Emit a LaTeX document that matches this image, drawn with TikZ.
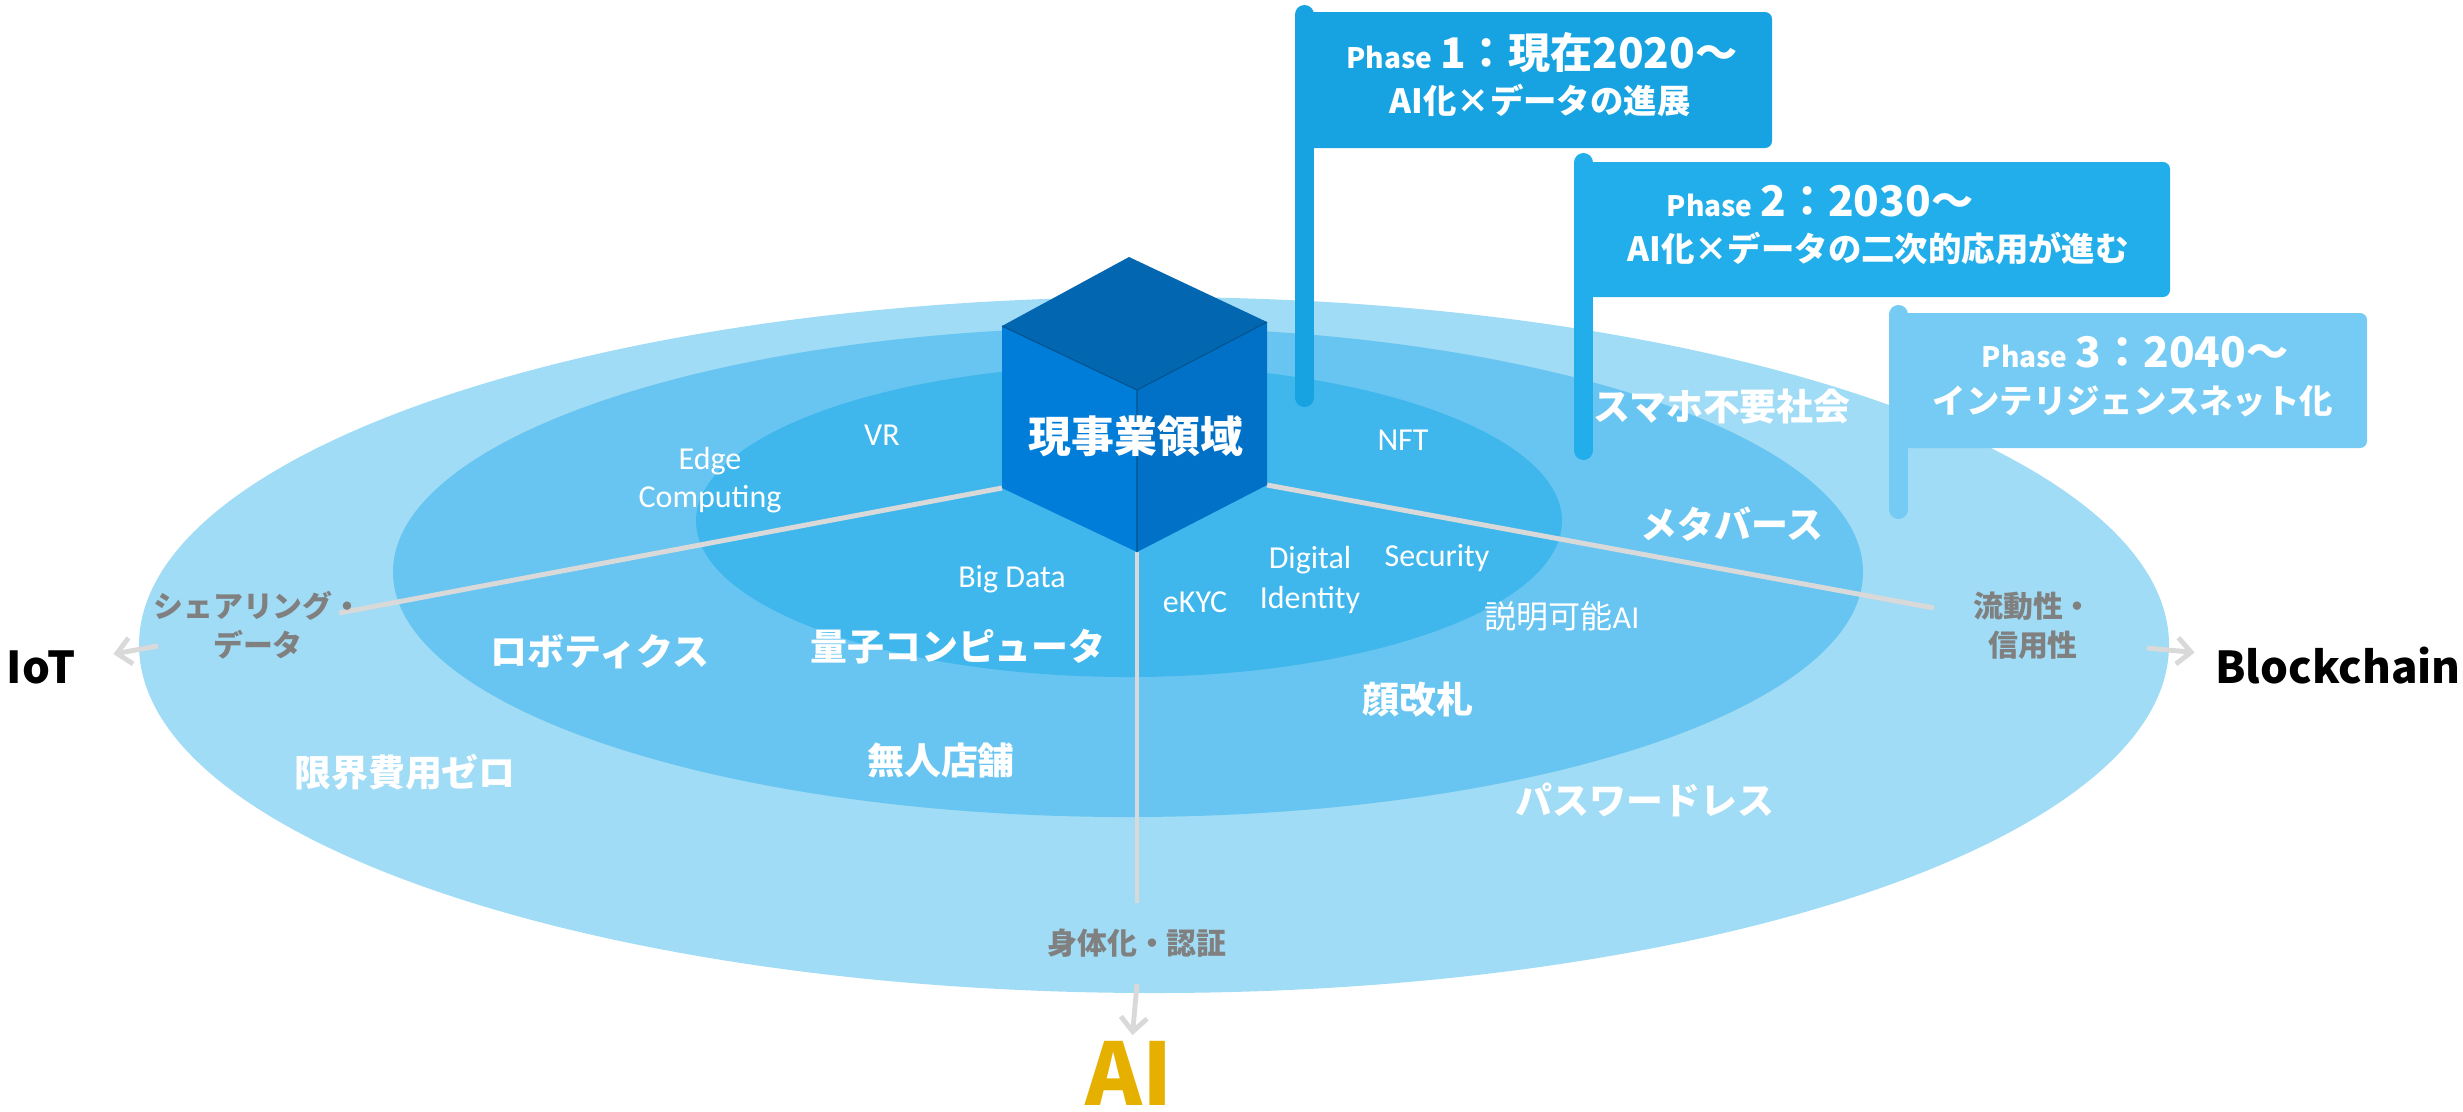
\documentclass[tikz,border=0pt]{standalone}
\usepackage{fontspec}
\setmainfont{Carlito}
\newfontfamily\jp{Noto Sans CJK JP}
\usetikzlibrary{arrows.meta}
\definecolor{ringO}{HTML}{A0DCF5}
\definecolor{ringM}{HTML}{68C5F1}
\definecolor{ringI}{HTML}{40B7EC}
\definecolor{flagA}{HTML}{17A3E1}
\definecolor{flagB}{HTML}{22AEEA}
\definecolor{flagC}{HTML}{75CBF3}
\definecolor{cubeT}{HTML}{0266B0}
\definecolor{cubeL}{HTML}{007CD9}
\definecolor{cubeR}{HTML}{0071C6}
\definecolor{lineg}{HTML}{D9D9D9}
\definecolor{labg}{HTML}{808080}
\definecolor{gold}{HTML}{E6B000}
\begin{document}
\begin{tikzpicture}[x=0.01cm,y=-0.01cm,
  wjp/.style={inner sep=0pt,text=white,font=\jp\bfseries\fontsize{10.5}{12}\selectfont},
  wen/.style={inner sep=0pt,text=white,align=center,font=\fontsize{9.1}{11.2}\selectfont},
  gjp/.style={inner sep=0pt,text=labg,align=center,font=\jp\bfseries\fontsize{8.5}{11}\selectfont},
  axis/.style={inner sep=0pt,font=\jp\bfseries\fontsize{12.5}{14}\selectfont},
  ph/.style={inner sep=0pt,text=white,font=\jp\bfseries\fontsize{9.5}{11}\selectfont},
  pole/.style={line width=5.4pt,line cap=round},
  spoke/.style={draw=lineg,line width=1.4pt},
  arr/.style={draw=lineg,line width=1.4pt,-{Straight Barb[length=4pt,width=7.5pt]}}]
  \useasboundingbox (0,0) rectangle (2463,1111);
  \fill[ringO] (1154,645) ellipse [x radius=1015,y radius=348];
  \fill[ringM] (1128,572) ellipse [x radius=735,y radius=245];
  \fill[ringI] (1129,521) ellipse [x radius=433,y radius=156];
  \coordinate (cT) at (1129,257);
  \coordinate (cL) at (1002,326);
  \coordinate (cR) at (1267,322);
  \coordinate (cC) at (1137,390);
  \coordinate (bL) at (1002,488);
  \coordinate (bR) at (1267,485);
  \coordinate (bC) at (1137,552);
  \coordinate (eL) at (339,613);
  \coordinate (eR) at (1934,608);
  \coordinate (eB) at (1137,903);
  \coordinate (sL) at (158,646);
  \coordinate (sR) at (2147,648);
  \coordinate (sB) at (1137,984);
  \draw[spoke] (bL) -- (eL);
  \draw[spoke] (bR) -- (eR);
  \draw[spoke] (bC) -- (eB);
  \draw[pole,flagA] (1304.5,14.5) -- (1304.5,397.5);
  \fill[flagA,rounded corners=2pt] (1295,12) rectangle (1772,148);
  \draw[pole,flagB] (1583.5,162.5) -- (1583.5,450.5);
  \fill[flagB,rounded corners=2pt] (1574,162) rectangle (2170,297);
  \draw[pole,flagC] (1898.5,314.5) -- (1898.5,509.5);
  \fill[flagC,rounded corners=2pt] (1890,313) rectangle (2367,448);
  \node[ph] (p1a) at (1542,53) {{\fontsize{8}{9}\selectfont Phase} {\fontsize{12}{13}\selectfont 1：現在2020～}};
  \node[ph] (p1b) at (1540,100) {AI化×データの進展};
  \node[ph] (p2a) at (1820,201) {{\fontsize{8}{9}\selectfont Phase} {\fontsize{12}{13}\selectfont 2：2030～}};
  \node[ph] (p2b) at (1878,249) {AI化×データの二次的応用が進む};
  \node[ph] (p3a) at (2135,352) {{\fontsize{8}{9}\selectfont Phase} {\fontsize{12}{13}\selectfont 3：2040～}};
  \node[ph] (p3b) at (2133,401) {インテリジェンスネット化};
  \node[wen] (vr) at (882,435) {VR};
  \node[wen,font=\fontsize{9.1}{10.8}\selectfont] (edge) at (710,480) {Edge\\Computing};
  \node[wen] (nft) at (1403,440) {NFT};
  \node[wen] (big) at (1012,579) {Big Data};
  \node[wen] (ekyc) at (1195,602) {eKYC};
  \node[wen] (did) at (1310,580) {Digital\\Identity};
  \node[wen] (sec) at (1437,558) {Security};
  \node[wen] (xai) at (1562,616) {{\jp 説明可能}AI};
  \node[wjp] (qc) at (958,647) {量子コンピュータ};
  \node[wjp] (robo) at (600,652) {ロボティクス};
  \node[wjp] (shop) at (941,760) {無人店舗};
  \node[wjp] (face) at (1418,700) {顔改札};
  \node[wjp] (zero) at (405,772) {限界費用ゼロ};
  \node[wjp] (pw) at (1645,800) {パスワードレス};
  \node[wjp] (meta) at (1732,524) {メタバース};
  \node[wjp] (sp) at (1722,407) {スマホ不要社会};
  \node[gjp] (share) at (258,625) {シェアリング・\\データ};
  \node[gjp] (liq) at (2033,626) {流動性・\\信用性};
  \node[gjp] (body) at (1137,943) {身体化・認証};
  \node[axis] (iot) at (41,667) {IoT};
  \node[axis] (bc) at (2338,666) {Blockchain};
  \node[axis,text=gold,anchor=base,font=\jp\bfseries\fontsize{24.5}{26}\selectfont] (ai) at (1129,1105) {AI};
  \draw[arr,shorten >=0.38cm] (sL) -- (iot);
  \draw[arr,shorten >=0.2cm] (sR) -- (bc);
  \draw[arr,shorten >=0.05cm] (sB) -- (ai);
  \fill[cubeT] (cT) -- (cL) -- (cC) -- (cR) -- cycle;
  \fill[cubeL] (cL) -- (cC) -- (bC) -- (bL) -- cycle;
  \fill[cubeR] (cC) -- (cR) -- (bR) -- (bC) -- cycle;
  \draw[cubeT!80!black,line width=0.3pt] (cL) -- (cC) -- (cR) (cC) -- (bC);
  \node[wjp,font=\jp\bfseries\fontsize{12.2}{14}\selectfont] (core) at (1136,436) {現事業領域};
\end{tikzpicture}
\end{document}
